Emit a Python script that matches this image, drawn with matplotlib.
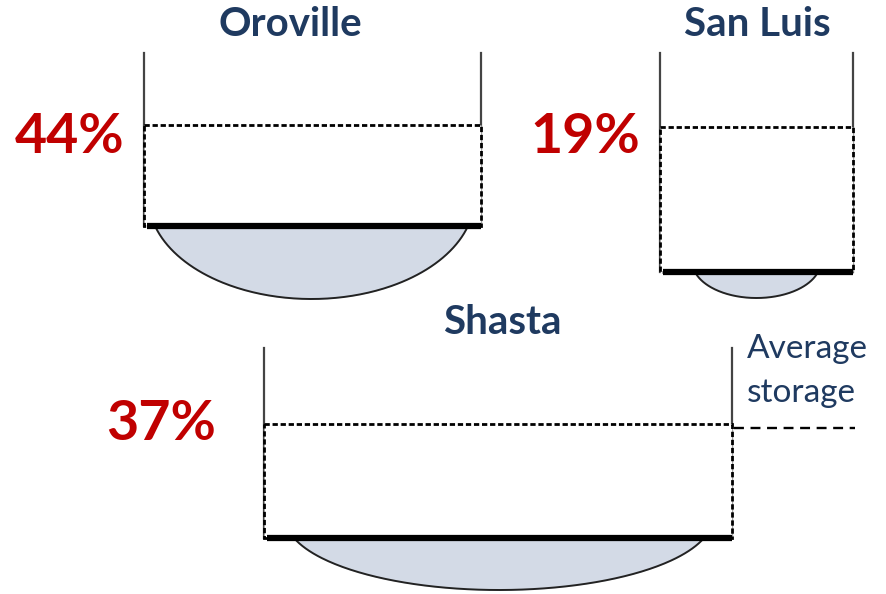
import matplotlib.pyplot as plt
from matplotlib.patches import Rectangle
import numpy as np

# Datos: embalses y porcentaje del almacenamiento medio
reservoirs = ["Oroville", "San Luis", "Shasta"]
pct_of_avg = [44, 19, 37]
note_lines = ["Average", "storage"]

# Disposición en píxeles (paredes, nivel medio, nivel actual, cuenco, posiciones de texto)
layout = {
    "Oroville": dict(x0=144, x1=481, top=53, avg=125, cur=226, bottom=299, bx0=155, bx1=468,
                     title=(290, 24), pct=(70, 137)),
    "San Luis": dict(x0=660, x1=853, top=53, avg=127, cur=272, bottom=298, bx0=695, bx1=818,
                     title=(757, 24), pct=(585, 137)),
    "Shasta": dict(x0=264, x1=732, top=348, avg=424, cur=538, bottom=590, bx0=294, bx1=704,
                   title=(502, 323), pct=(161, 424)),
}

navy = "#1F3A60"
red = "#C00000"
bowl_fill = "#D3DAE6"
dash = (0, (1.9, 1.0))

fig = plt.figure(figsize=(8.87, 5.94), dpi=100)
ax = fig.add_axes([0, 0, 1, 1])
ax.set_xlim(0, 887)
ax.set_ylim(594, 0)
ax.axis("off")

for name, pct in zip(reservoirs, pct_of_avg):
    g = layout[name]
    # Cuenco (agua actual): segmento de elipse bajo la línea gruesa
    cx = (g["bx0"] + g["bx1"]) / 2
    half = (g["bx1"] - g["bx0"]) / 2
    depth = g["bottom"] - g["cur"]
    B = depth / 0.72
    c = B - depth
    A = half / np.sqrt(1 - (c / B) ** 2)
    t0 = np.arcsin(c / B)
    t = np.linspace(t0, np.pi - t0, 200)
    xs = cx + A * np.cos(t)
    ys = (g["cur"] - c) + B * np.sin(t)
    ax.fill(xs, ys, color=bowl_fill, zorder=1)
    ax.plot(xs, ys, color="#222222", lw=1.4, zorder=2)

    # Paredes
    ax.plot([g["x0"], g["x0"]], [g["top"], g["cur"]], color="#444444", lw=1.6, zorder=2)
    ax.plot([g["x1"], g["x1"]], [g["top"], g["cur"]], color="#444444", lw=1.6, zorder=2)

    # Rectángulo discontinuo del almacenamiento medio
    ax.add_patch(Rectangle((g["x0"], g["avg"]), g["x1"] - g["x0"], g["cur"] - g["avg"],
                           facecolor="white", edgecolor="black", lw=2.0,
                           linestyle=dash, zorder=3))

    # Nivel actual (línea gruesa)
    ax.plot([g["x0"] + 3, g["x1"]], [g["cur"], g["cur"]], color="black", lw=4.5,
            solid_capstyle="butt", zorder=4)

    ax.text(*g["title"], name, ha="center", va="center", fontsize=29,
            fontweight="bold", color=navy, family="Lato")
    ax.text(*g["pct"], f"{pct}%", ha="center", va="center", fontsize=40,
            fontweight="bold", color=red, family="Lato")

# Etiqueta de almacenamiento medio
sh = layout["Shasta"]
ax.plot([sh["x1"] + 2, 855], [sh["avg"] + 4, sh["avg"] + 4], color="black", lw=1.7,
        linestyle=(0, (4.2, 2.8)))
for txt, yb in zip(note_lines, [358, 402]):
    ax.text(747, yb, txt, ha="left", va="baseline", fontsize=24,
            color=navy, family="Lato")

fig.savefig("out.png", dpi=100)
